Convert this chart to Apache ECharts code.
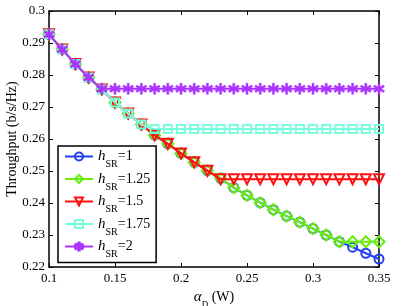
<!DOCTYPE html>
<html><head><meta charset="utf-8">
<script src="https://cdn.jsdelivr.net/npm/echarts@6/dist/echarts.min.js"></script>
<style>html,body{margin:0;padding:0;background:#fff}#c{width:415px;height:306px}</style>
</head><body><div id="c"></div>
<script>
var alphaD = [0.10,0.11,0.12,0.13,0.14,0.15,0.16,0.17,0.18,0.19,0.20,0.21,0.22,0.23,0.24,0.25,0.26,0.27,0.28,0.29,0.30,0.31,0.32,0.33,0.34,0.35];
var hsr1   = [0.2927,0.2880,0.2834,0.2792,0.2755,0.2714,0.2680,0.2645,0.2612,0.2585,0.2555,0.2527,0.2501,0.2477,0.2448,0.2424,0.2401,0.2379,0.2359,0.2340,0.2320,0.2300,0.2279,0.2262,0.2243,0.2225];
var hsr125 = [0.2927,0.2880,0.2834,0.2792,0.2755,0.2714,0.2680,0.2645,0.2612,0.2585,0.2555,0.2527,0.2501,0.2477,0.2448,0.2424,0.2401,0.2379,0.2359,0.2340,0.2320,0.2300,0.2279,0.2279,0.2279,0.2279];
var hsr15  = [0.2927,0.2880,0.2834,0.2792,0.2755,0.2714,0.2680,0.2645,0.2612,0.2585,0.2555,0.2527,0.2501,0.2474,0.2474,0.2474,0.2474,0.2474,0.2474,0.2474,0.2474,0.2474,0.2474,0.2474,0.2474,0.2474];
var hsr175 = [0.2927,0.2880,0.2834,0.2792,0.2755,0.2714,0.2680,0.2645,0.2631,0.2631,0.2631,0.2631,0.2631,0.2631,0.2631,0.2631,0.2631,0.2631,0.2631,0.2631,0.2631,0.2631,0.2631,0.2631,0.2631,0.2631];
var hsr2   = [0.2927,0.2880,0.2834,0.2792,0.2757,0.2757,0.2757,0.2757,0.2757,0.2757,0.2757,0.2757,0.2757,0.2757,0.2757,0.2757,0.2757,0.2757,0.2757,0.2757,0.2757,0.2757,0.2757,0.2757,0.2757,0.2757];
var legendVals = ['1','1.25','1.5','1.75','2'];
var xTicks = {min:0.1, max:0.35, interval:0.05};
var yTicks = {min:0.22, max:0.30, interval:0.01};

var FONT = '"Liberation Serif","Times New Roman",serif';
var colors = ['#2040f0','#66ee11','#ff1010','#77ffdd','#aa33ff'];
var star = 'path://M4.2,0 L5.8,0 L5.8,3.1 L8.5,1.5 L9.3,2.9 L6.6,4.5 L9.3,6.1 L8.5,7.5 L5.8,5.9 L5.8,9 L4.2,9 L4.2,5.9 L1.5,7.5 L0.7,6.1 L3.4,4.5 L0.7,2.9 L1.5,1.5 L4.2,3.1 Z';
var symbols = [['circle',9,0],['diamond',11,0],['triangle',10,180],['rect',8,0],[star,11,0]];
var datasets = [hsr1,hsr125,hsr15,hsr175,hsr2];

function pairs(arr){ return alphaD.map(function(x,i){return [x,arr[i]];}); }

var series = datasets.map(function(d,i){
  var filled = i===4;
  return {
    name: 'h'+i,
    type: 'line',
    data: pairs(d),
    symbol: symbols[i][0],
    symbolSize: symbols[i][1],
    symbolRotate: symbols[i][2],
    showAllSymbol: true,
    lineStyle: {color: colors[i], width: 2},
    itemStyle: {color: filled ? colors[i] : 'rgba(255,255,255,0)', borderColor: colors[i], borderWidth: filled?0.5:2},
    emphasis: {disabled: true},
    animation: false,
    z: 2+i
  };
});

var rich = {
  i: {fontFamily: FONT, fontSize: 15, fontStyle: 'italic', color:'#000', lineHeight: 20, verticalAlign:'middle'},
  s: {fontFamily: FONT, fontSize: 10, color:'#000', lineHeight: 20, verticalAlign:'bottom', padding:[0,0,-3,0]},
  n: {fontFamily: FONT, fontSize: 14, color:'#000', lineHeight: 20, verticalAlign:'middle'}
};

var axisCommon = {
  axisLine: {show:true, lineStyle:{color:'#000', width:1.5}},
  axisTick: {show:true, inside:true, length:4, lineStyle:{color:'#000', width:1}},
  splitLine: {show:false}
};

var chart = echarts.init(document.getElementById('c'), null, {renderer:'canvas'});
chart.setOption({
  animation: false,
  backgroundColor: '#fff',
  grid: {left: 49, right: 36, top: 11, bottom: 39, containLabel:false, outerBoundsMode:'none'},
  xAxis: [
    Object.assign({type:'value', min:xTicks.min, max:xTicks.max, interval:xTicks.interval,
      name:'{a|α}{d|D} (W)', nameLocation:'middle', nameGap:21, nameMoveOverlap:false,
      nameTextStyle:{fontFamily:FONT, fontSize:14, color:'#000', rich:{
        a:{fontFamily:FONT, fontSize:15, fontStyle:'italic', color:'#000', lineHeight:18, verticalAlign:'middle'},
        d:{fontFamily:FONT, fontSize:9, color:'#000', lineHeight:18, verticalAlign:'bottom', padding:[0,0,-3,0]}
      }}}, axisCommon, {axisLabel:{fontFamily:FONT, fontSize:13, color:'#000', margin:5}}),
    Object.assign({type:'value', position:'top', min:xTicks.min, max:xTicks.max, interval:xTicks.interval}, axisCommon, {axisLabel:{show:false}})
  ],
  yAxis: [
    Object.assign({type:'value', min:yTicks.min, max:yTicks.max, interval:yTicks.interval,
      name:'Throughput (b/s/Hz)', nameLocation:'middle', nameGap:30, nameRotate:90, nameMoveOverlap:false,
      nameTextStyle:{fontFamily:FONT, fontSize:14, color:'#000'}}, axisCommon, {axisLabel:{fontFamily:FONT, fontSize:13, color:'#000', margin:4}}),
    Object.assign({type:'value', position:'right', min:yTicks.min, max:yTicks.max, interval:yTicks.interval}, axisCommon, {axisLabel:{show:false}})
  ],
  legend: {
    orient:'vertical', left: 58, top: 146,
    backgroundColor:'#fff',
    borderColor:'#000', borderWidth:1.5, borderRadius:0,
    padding:[3,6,3,6],
    itemWidth: 28, itemHeight: 10, itemGap: 2,
    data: series.map(function(s){return s.name;}),
    formatter: function(name){ var k = parseInt(name.slice(1)); return '{i|h}{s|SR}{n|='+legendVals[k]+'}'; },
    textStyle: {rich: rich, padding:[0,0,0,0]},
    selectedMode:false
  },
  series: series
});
</script></body></html>
